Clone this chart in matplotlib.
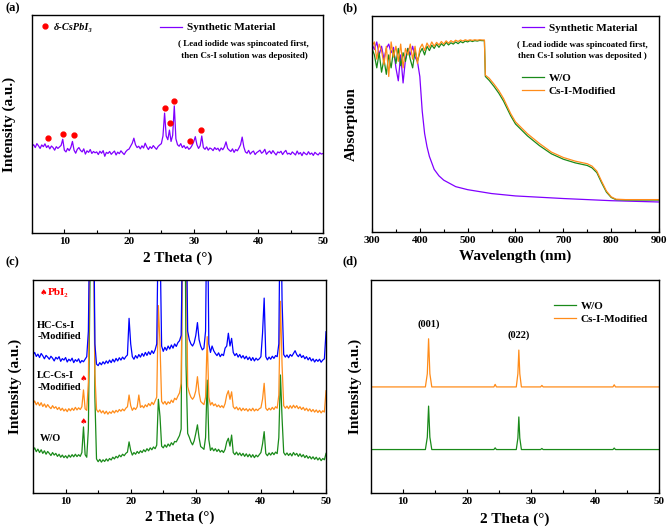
import numpy as np
import matplotlib
matplotlib.use('Agg')
import matplotlib.pyplot as plt
from matplotlib.ticker import MultipleLocator

plt.rcParams['font.family'] = ['Liberation Serif', 'DejaVu Serif', 'DejaVu Sans']
plt.rcParams['font.weight'] = 'bold'
plt.rcParams['axes.labelweight'] = 'bold'

PURPLE = '#8000ff'
GREEN = '#1a8a1a'
ORANGE = '#ff8c1a'
BLUE = '#0000ff'

# ---------- (a) XRD of synthetic material ----------
tt = np.arange(5, 50.001, 0.25)  # 2 theta grid, shared by (a) and (c)
syn_a = [
    .398, .405, .392, .410, .400, .388, .404, .396, .409, .392, .401, .386, .399, .392, .380, .396, .388, .395, .402, .430,
    .380, .372, .388, .378, .392, .420, .380, .366, .384, .392, .379, .372, .386, .362, .377, .370, .383, .365, .374, .368,
    .372, .360, .375, .366, .378, .352, .370, .365, .374, .361, .369, .376, .358, .371, .364, .377, .368, .360, .373, .381,
    .385, .398, .412, .435, .405, .392, .398, .386, .400, .390, .412, .395, .383, .396, .388, .401, .392, .384, .397, .404,
    .410, .445, .550, .445, .428, .472, .420, .448, .583, .432, .405, .398, .410, .392, .401, .388, .396, .384, .390, .402,
    .418, .442, .405, .388, .400, .445, .392, .384, .395, .380, .390, .386, .378, .392, .383, .389, .376, .390, .382, .395,
    .418, .388, .380, .374, .386, .370, .383, .377, .390, .405, .440, .395, .372, .366, .379, .362, .371, .376, .360, .369,
    .374, .380, .366, .372, .384, .361, .370, .376, .364, .378, .367, .358, .372, .368, .375, .360, .371, .379, .362, .366,
    .360, .372, .365, .358, .376, .362, .369, .355, .371, .364, .359, .373, .361, .367, .356, .370, .363, .358, .368, .362,
    .365]
csp_x = [7.5, 9.85, 11.5, 25.6, 26.35, 27.0, 29.4, 31.1]
csp_y = [0.437, 0.453, 0.448, 0.572, 0.503, 0.607, 0.424, 0.471]

# ---------- (b) absorption ----------
wl_syn = list(np.arange(300, 396, 5)) + [400, 405, 410, 415, 420, 430, 440, 450, 475, 500,
                                        550, 600, 650, 700, 750, 800, 850, 900]
abs_syn = [.870, .845, .880, .820, .860, .800, .850, .870, .830, .855,
           .760, .700, .820, .690, .800, .850, .820, .860, .810, .790,
           .720, .560, .456, .395, .350, .290, .260, .240, .210, .196,
           .178, .167, .161, .155, .150, .145, .142, .139]
wl_film = list(np.arange(300, 536, 5)) + [537, 545, 555, 565, 575, 590, 600, 625, 650, 675, 700,
                                         725, 750, 760, 770, 780, 790, 800, 810, 830, 900]
abs_wo = [.850, .820, .760, .830, .740, .800, .730, .820, .760, .840,
          .780, .850, .770, .830, .790, .850, .800, .760, .840, .790,
          .830, .850, .820, .860, .840, .865, .850, .870, .855, .872,
          .862, .878, .866, .876, .870, .880, .872, .882, .876, .884,
          .880, .886, .882, .886, .884, .887, .886, .886,
          .720, .702, .674, .643, .606, .538, .500, .445, .400, .362, .337,
          .320, .308, .297, .275, .228, .185, .160, .150, .148, .148]
abs_cs = [.860, .880, .800, .870, .840, .775, .860, .720, .880, .810,
          .860, .790, .870, .760, .850, .820, .870, .800, .860, .780,
          .850, .870, .840, .875, .855, .880, .860, .878, .866, .882,
          .870, .885, .874, .886, .878, .888, .882, .889, .884, .890,
          .886, .890, .887, .890, .888, .890, .889, .889,
          .726, .712, .685, .655, .618, .548, .510, .455, .410, .370, .345,
          .328, .316, .305, .282, .235, .190, .163, .152, .150, .150]

# ---------- (c) XRD, stacked ----------
hc_c = [
    .648, .660, .641, .652, .636, .655, .644, .630, .646, .638, .628, .642, .633, .620, .637, .629, .640, .618, .631, .624,
    .636, .615, .628, .620, .633, .612, .626, .618, .630, .611, .622, .616, .628, .640, .760, 1.40, 2.20, 1.60, .700, .605,
    .598, .612, .602, .616, .606, .620, .609, .624, .612, .628, .615, .632, .620, .635, .624, .638, .628, .640, .648, .820,
    .700, .640, .628, .645, .633, .650, .638, .655, .642, .660, .646, .663, .650, .668, .655, .672, .700, 1.30, 1.20, .690,
    .665, .684, .670, .690, .676, .695, .680, .700, .688, .706, .715, .740, 1.30, 2.50, 1.40, .760, .720, .700, .690, .705,
    .740, .800, .720, .690, .672, .680, .760, 1.50, .700, .660, .690, .668, .655, .645, .658, .640, .652, .645, .680, .690,
    .750, .690, .726, .660, .645, .655, .638, .650, .634, .645, .630, .642, .626, .638, .622, .636, .620, .633, .624, .630,
    .640, .750, .915, .640, .625, .638, .628, .642, .632, .645, .640, .700, 1.50, .900, .650, .638, .648, .635, .650, .642,
    .655, .668, .650, .640, .652, .636, .645, .630, .640, .625, .636, .620, .630, .615, .627, .618, .628, .614, .624, .630,
    .757]
lc_c = [
    .420, .432, .414, .426, .410, .424, .406, .418, .402, .415, .404, .396, .410, .398, .405, .392, .402, .388, .398, .385,
    .394, .382, .396, .386, .398, .388, .402, .390, .400, .392, .405, .484, .395, .388, .520, 1.30, 2.00, 1.50, .560, .392,
    .380, .390, .376, .386, .372, .384, .370, .381, .374, .386, .376, .388, .380, .392, .384, .394, .386, .398, .405, .460,
    .410, .388, .400, .392, .405, .460, .402, .410, .400, .414, .405, .420, .410, .426, .415, .432, .450, .880, .700, .430,
    .418, .430, .415, .428, .420, .436, .425, .445, .438, .455, .470, .515, 1.30, 2.40, 1.30, .500, .470, .450, .440, .452,
    .480, .546, .470, .430, .422, .415, .450, .734, .450, .413, .425, .410, .418, .405, .413, .402, .410, .400, .420, .460,
    .480, .440, .475, .405, .395, .404, .390, .400, .386, .398, .388, .396, .384, .395, .386, .398, .385, .394, .387, .396,
    .400, .440, .515, .398, .388, .398, .390, .402, .392, .405, .398, .460, .900, .600, .410, .398, .408, .396, .410, .398,
    .412, .400, .410, .396, .405, .392, .402, .388, .398, .385, .395, .382, .392, .380, .390, .378, .388, .376, .386, .380,
    .480]
wo_c = [
    .200, .212, .194, .206, .190, .203, .186, .198, .182, .195, .186, .176, .190, .178, .186, .172, .182, .168, .178, .166,
    .175, .164, .178, .168, .180, .170, .182, .171, .180, .172, .190, .310, .180, .168, .300, 1.00, 2.00, 1.80, .450, .160,
    .147, .158, .145, .156, .148, .160, .150, .162, .155, .168, .160, .172, .165, .178, .170, .182, .175, .186, .192, .240,
    .200, .178, .190, .182, .195, .186, .198, .190, .203, .194, .208, .198, .212, .203, .216, .208, .225, .440, .360, .220,
    .212, .226, .215, .230, .220, .236, .226, .242, .240, .255, .270, .300, 1.60, 1.80, .600, .280, .262, .240, .226, .245,
    .280, .320, .260, .218, .212, .205, .260, .530, .250, .200, .212, .198, .208, .195, .205, .192, .200, .190, .205, .240,
    .257, .220, .272, .190, .180, .192, .178, .188, .175, .186, .172, .184, .170, .182, .168, .180, .166, .178, .170, .180,
    .190, .230, .288, .185, .175, .188, .178, .190, .180, .192, .185, .260, .554, .350, .190, .178, .188, .176, .186, .174,
    .190, .178, .186, .172, .184, .170, .180, .166, .176, .163, .172, .160, .170, .158, .168, .155, .165, .152, .162, .156,
    .186]
pbi2_x = [12.7, 12.7]
pbi2_y = [0.538, 0.335]

# ---------- (d) XRD, W/O vs Cs-I-Modified ----------
tt_d = [5, 13.5, 13.8, 14.0, 14.2, 14.5, 24.2, 24.4, 24.6, 27.7, 27.95, 28.1, 28.25, 28.5,
        31.5, 31.7, 31.9, 42.8, 43.0, 43.2, 50]
cs_d = [.498, .498, .560, .724, .560, .498, .498, .510, .498, .498, .560, .671, .560, .498,
        .498, .505, .498, .498, .508, .498, .498]
wo_d = [.204, .204, .262, .408, .262, .204, .204, .212, .204, .204, .258, .357, .258, .204,
        .204, .209, .204, .204, .211, .204, .204]

fig = plt.figure(figsize=(6.7, 5.32), dpi=100)
ax_a = fig.add_axes([0.0478, 0.562, 0.4343, 0.4098])
ax_b = fig.add_axes([0.5552, 0.5639, 0.4284, 0.406])
ax_c = fig.add_axes([0.0493, 0.0733, 0.4373, 0.4004])
ax_d = fig.add_axes([0.5537, 0.0733, 0.4299, 0.4004])


def style(ax, major, minor, h, xlab_gap):
    ax.set_ylim(0, 1)
    ax.xaxis.set_major_locator(MultipleLocator(major))
    ax.xaxis.set_minor_locator(MultipleLocator(minor))
    ax.tick_params(axis='x', which='both', direction='in', top=False, labelsize=8, pad=3)
    ax.tick_params(axis='x', which='major', length=3, width=0.8)
    ax.tick_params(axis='x', which='minor', length=2.5, width=0.8)
    ax.tick_params(axis='y', left=False, labelleft=False)
    for s in ax.spines.values():
        s.set_linewidth(1.0)
    ax.xaxis.set_label_coords(0.5, -xlab_gap / h)


# (a)
ax_a.plot(tt, syn_a, color=PURPLE, lw=0.9, label='Synthetic Material')
dots, = ax_a.plot(csp_x, csp_y, 'o', color='red', ms=3.5, label='δ-CsPbI₃')
ax_a.set_xlim(5, 50)
style(ax_a, 10, 5, 218, 18)
ax_a.set_xlabel('2 Theta (°)', fontsize=11)
ax_a.set_ylabel('Intensity (a.u.)', fontsize=11)
ax_a.yaxis.set_label_coords(-16 / 291, 0.5)
leg1 = ax_a.legend(handles=[ax_a.lines[0]], loc='upper left', bbox_to_anchor=(0.44, 0.965),
                   frameon=False, borderpad=0, borderaxespad=0, handlelength=2.0,
                   handletextpad=0.4, fontsize=8)
ax_a.add_artist(leg1)
ax_a.legend(handles=[dots], loc='upper left', bbox_to_anchor=(0.035, 0.965), frameon=False,
            borderpad=0, borderaxespad=0, handlelength=0.6, handletextpad=0.5,
            prop={'style': 'italic', 'weight': 'bold', 'size': 7.5})
ax_a.text(0.725, 0.839, '( Lead iodide was spincoated first,\n then Cs-I solution was deposited)',
          transform=ax_a.transAxes, ha='center', va='center', fontsize=6.5, linespacing=1.55)
fig.text(5 / 670, 1 - 8 / 532, '(a)', fontsize=9, va='center', ha='left')

# (b)
syn_b, = ax_b.plot(wl_syn, abs_syn, color=PURPLE, lw=0.9, label='Synthetic Material')
wo_b, = ax_b.plot(wl_film, abs_wo, color=GREEN, lw=0.9, label='W/O')
cs_b, = ax_b.plot(wl_film, abs_cs, color=ORANGE, lw=0.9, label='Cs-I-Modified')
ax_b.set_xlim(300, 900)
style(ax_b, 100, 50, 216, 18)
ax_b.set_xlabel('Wavelength (nm)', fontsize=11)
ax_b.set_ylabel('Absorption', fontsize=11)
ax_b.yaxis.set_label_coords(-14 / 287, 0.5)
leg2 = ax_b.legend(handles=[syn_b], loc='upper left', bbox_to_anchor=(0.523, 0.965),
                   frameon=False, borderpad=0, borderaxespad=0, handlelength=2.0,
                   handletextpad=0.4, fontsize=8)
ax_b.add_artist(leg2)
ax_b.legend(handles=[wo_b, cs_b], loc='upper left', bbox_to_anchor=(0.523, 0.735),
            frameon=False, borderpad=0, borderaxespad=0, handlelength=2.0,
            handletextpad=0.4, labelspacing=0.3, fontsize=8)
ax_b.text(0.732, 0.840, '( Lead iodide was spincoated first,\nthen Cs-I solution was deposited )',
          transform=ax_b.transAxes, ha='center', va='center', fontsize=6.5, linespacing=1.55)
fig.text(342 / 670, 1 - 8 / 532, '(b)', fontsize=9, va='center', ha='left')

# (c)
ax_c.plot(tt, wo_c, color=GREEN, lw=0.9)
ax_c.plot(tt, lc_c, color=ORANGE, lw=0.9)
ax_c.plot(tt, hc_c, color=BLUE, lw=0.9)
for x, y in zip(pbi2_x, pbi2_y):
    ax_c.text(x, y, '♠', color='red', fontsize=6, ha='center', va='center',
              family=['DejaVu Sans'])
ax_c.set_xlim(5, 50)
style(ax_c, 10, 5, 213, 18)
ax_c.set_xlabel('2 Theta (°)', fontsize=11)
ax_c.set_ylabel('Intensity (a.u.)', fontsize=11)
ax_c.yaxis.set_label_coords(-11 / 293, 0.5)
ax_c.text(0.035, 0.939, '♠', color='red', fontsize=6, ha='center', va='center',
          transform=ax_c.transAxes, family=['DejaVu Sans'])
ax_c.text(0.05, 0.939, 'PbI₂', color='red', fontsize=8, ha='left', va='center',
          transform=ax_c.transAxes)
ax_c.text(0.014, 0.76, 'HC-Cs-I\n-Modified', transform=ax_c.transAxes, ha='left',
          va='center', fontsize=7.5, linespacing=1.35)
ax_c.text(0.014, 0.523, 'LC-Cs-I\n-Modified', transform=ax_c.transAxes, ha='left',
          va='center', fontsize=7.5, linespacing=1.35)
ax_c.text(0.022, 0.254, 'W/O', transform=ax_c.transAxes, ha='left', va='center', fontsize=7.5)
fig.text(5 / 670, 1 - 262 / 532, '(c)', fontsize=9, va='center', ha='left')

# (d)
wo_dl, = ax_d.plot(tt_d, wo_d, color=GREEN, lw=0.9, label='W/O')
cs_dl, = ax_d.plot(tt_d, cs_d, color=ORANGE, lw=0.9, label='Cs-I-Modified')
ax_d.set_xlim(5, 50)
style(ax_d, 10, 5, 213, 20)
ax_d.set_xlabel('2 Theta (°)', fontsize=11)
ax_d.set_ylabel('Intensity (a.u.)', fontsize=11)
ax_d.yaxis.set_label_coords(-9 / 288, 0.5)
ax_d.legend(handles=[wo_dl, cs_dl], loc='upper left', bbox_to_anchor=(0.635, 0.90),
            frameon=False, borderpad=0, borderaxespad=0, handlelength=2.0,
            handletextpad=0.4, labelspacing=0.3, fontsize=8)
ax_d.annotate('(001)', (14.0, 0.724), xytext=(0, 7), textcoords='offset points',
              ha='center', va='bottom', fontsize=7.5)
ax_d.annotate('(022)', (28.1, 0.671), xytext=(0, 7), textcoords='offset points',
              ha='center', va='bottom', fontsize=7.5)
fig.text(342 / 670, 1 - 261 / 532, '(d)', fontsize=9, va='center', ha='left')

fig.savefig('out.png', dpi=100)
